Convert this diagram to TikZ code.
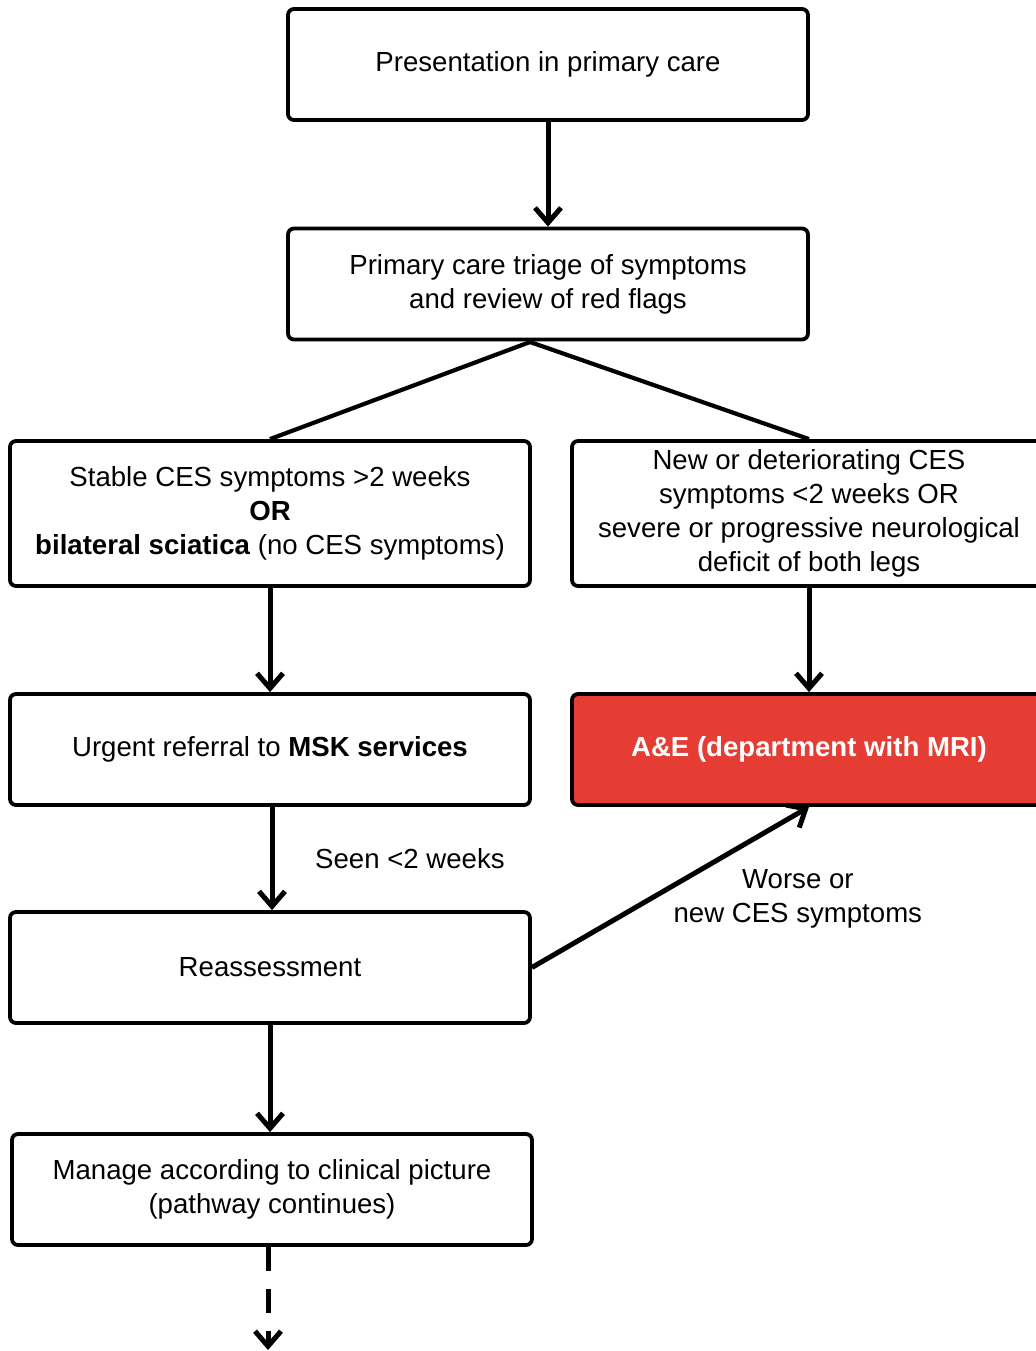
\documentclass[tikz,border=0pt]{standalone}
\usepackage{fontspec}
\setmainfont{Liberation Sans}
\usetikzlibrary{arrows.meta}
\definecolor{aered}{RGB}{229,61,52}

\begin{document}
\begin{tikzpicture}[x=0.5pt, y=-0.5pt,
        box/.style={draw, line width=1.9pt, rounded corners=3pt, align=center, inner ysep=2pt,
                minimum width=260pt, minimum height=55.5pt, font=\fontsize{13.8}{17}\selectfont},
        tall/.style={minimum height=72.5pt},
        lbl/.style={font=\fontsize{13.8}{17}\selectfont, align=center},
        arr/.style={line width=2.5pt, -{Straight Barb[length=7.5pt, width=13pt]}}]

        \useasboundingbox (0,0) rectangle (1035,1351);

        \node[box] (present) at (548,64.5) {Presentation in primary care};
        \node[box] (triage) at (548,284) {Primary care triage of symptoms\\and review of red flags};
        \node[box, tall] (stable) at (270,513.5) {Stable CES symptoms >2 weeks\\\textbf{OR}\\\textbf{bilateral sciatica} (no CES symptoms)};
        \node[box, tall, minimum width=237pt] (newsym) at (809,513.5) {New or deteriorating CES\\symptoms <2 weeks OR\\severe or progressive neurological\\deficit of both legs};
        \node[box] (referral) at (270,749.5) {Urgent referral to \textbf{MSK services}};
        \node[box, fill=aered, text=white, minimum width=237pt, font=\fontsize{13.8}{17}\selectfont\bfseries] (ae) at (809,749.5) {A\&E (department with MRI)};
        \node[box] (reassess) at (270,967.5) {Reassessment};
        \node[box] (manage) at (272,1189.5) {Manage according to clinical picture\\(pathway continues)};
        \coordinate (split) at (530,342);
        \coordinate (cont) at (268,1350);

        \draw[arr] (present) -- (triage);
        \draw[line width=2.1pt] (split) -- (stable.north);
        \draw[line width=2.1pt] (split) -- (newsym.north);
        \draw[arr] (stable) -- (referral);
        \draw[arr] (newsym) -- (ae);
        \draw[arr] (referral.south -| 272,0) -- node[midway, right, lbl, xshift=17pt] {Seen <2 weeks} (reassess.north -| 272,0);
        \draw[arr] (reassess.east) -- node[midway, anchor=west, lbl, yshift=-6pt, xshift=-3pt] {Worse or\\new CES symptoms} (ae.south);
        \draw[arr] (reassess) -- (reassess |- manage.north);
        \draw[arr, dash pattern=on 12pt off 9pt] (manage.south -| cont) -- (cont);
            
        \end{tikzpicture}
\end{document}
